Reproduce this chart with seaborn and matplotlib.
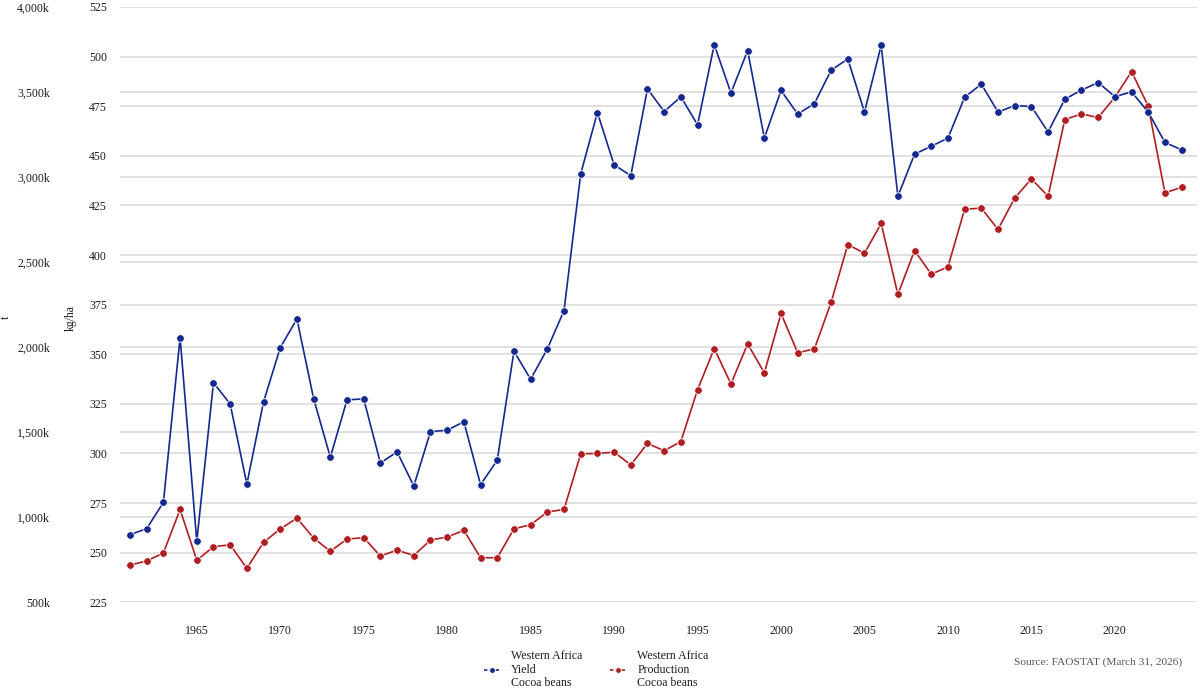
import numpy as np
import pandas as pd
import matplotlib
matplotlib.use("Agg")
import matplotlib.pyplot as plt
from matplotlib.lines import Line2D
import seaborn as sns

# data (Western Africa, cocoa beans)
years = list(range(1961, 2025))

yield_kg_ha = [
    259.1, 262.1, 275.4, 358.4, 255.7, 335.7, 324.9, 284.6, 326.0, 353.3,
    367.8, 327.6, 298.1, 327.0, 327.5, 295.2, 300.8, 283.6, 311.0, 311.7,
    316.0, 284.3, 296.6, 351.5, 337.4, 352.7, 372.0, 440.9, 471.8, 445.4,
    440.0, 483.7, 472.3, 479.7, 465.6, 506.0, 481.6, 503.0, 458.9, 482.9,
    471.0, 476.3, 493.1, 498.8, 472.0, 505.7, 429.6, 450.8, 454.8, 458.9,
    479.5, 486.1, 472.0, 475.3, 474.8, 462.0, 478.5, 483.1, 486.9, 479.8,
    482.2, 472.0, 456.7, 453.0,
]

# thousand tonnes
production_kt = [
    719, 743, 790, 1046, 747, 827, 838, 700, 853, 931,
    995, 878, 800, 872, 880, 772, 807, 775, 866, 884,
    923, 762, 762, 932, 956, 1031, 1046, 1373, 1375, 1383,
    1308, 1434, 1391, 1445, 1750, 1992, 1784, 2019, 1849, 2198,
    1967, 1990, 2263, 2603, 2552, 2727, 2310, 2568, 2429, 2472,
    2811, 2817, 2692, 2877, 2989, 2887, 3338, 3371, 3350, 3469,
    3620, 3416, 2907, 2940,
]

yield_ticks = [225, 250, 275, 300, 325, 350, 375, 400, 425, 450, 475, 500, 525]
prod_ticks = [500, 1000, 1500, 2000, 2500, 3000, 3500, 4000]
x_ticks = [1965, 1970, 1975, 1980, 1985, 1990, 1995, 2000, 2005, 2010, 2015, 2020]

df = pd.DataFrame({"year": years, "yield": yield_kg_ha,
                   "production": [v * 1000 for v in production_kt]})

blue = "#14288f"
red = "#b01e22"
grid_col = "#dedede"
text_col = "#1e1e1e"
fs = 8.6

sns.set_style("white")
plt.rcParams["font.family"] = ["Liberation Serif", "DejaVu Serif"]

fig = plt.figure(figsize=(12, 6.92), dpi=100)
ax = fig.add_axes([0.1, 0.1296, 0.8975, 0.8604])
ax2 = ax.twinx()

# production axis sits behind, it holds all gridlines
ax.set_zorder(ax2.get_zorder() + 1)
ax.patch.set_visible(False)

ax.set_xlim(1960.4, 2024.92)
ax.set_ylim(225, 525)
ax2.set_ylim(500e3, 4000e3)

for v in prod_ticks:
    ax2.axhline(v * 1000, color=grid_col, linewidth=1.3, zorder=0)
for v in yield_ticks:
    ax2.plot([0, 1], [v, v], transform=ax.get_yaxis_transform(),
             color=grid_col, linewidth=1.3, zorder=0)

sns.lineplot(data=df, x="year", y="production", ax=ax2, color=red, linewidth=1.2,
             marker="o", markersize=5.5, markeredgecolor="white", markeredgewidth=0.6,
             legend=False, zorder=3)
sns.lineplot(data=df, x="year", y="yield", ax=ax, color=blue, linewidth=1.2,
             marker="o", markersize=5.5, markeredgecolor="white", markeredgewidth=0.6,
             legend=False, zorder=3)

ax.set_yticks(yield_ticks)
ax.set_yticklabels([str(v) for v in yield_ticks])
ax2.set_yticks([v * 1000 for v in prod_ticks])
ax2.set_yticklabels([f"{v:,}k" for v in prod_ticks])
ax.set_xticks(x_ticks)
ax.grid(False)
ax2.grid(False)

for a in (ax, ax2):
    for s in a.spines.values():
        s.set_visible(False)

ax.tick_params(axis="y", length=0, pad=9.4, labelsize=fs, labelcolor=text_col)
ax.tick_params(axis="x", length=3, color=grid_col, pad=13, labelsize=fs, labelcolor=text_col)

# move production axis to the far left
ax2.yaxis.tick_left()
ax2.yaxis.set_label_position("left")
ax2.spines["left"].set_position(("outward", 41))
ax2.tick_params(axis="y", length=0, pad=9.4, labelsize=fs, labelcolor=text_col)

ax.set_xlabel("")
ax.set_ylabel("kg/ha", fontsize=8.5, color=text_col)
ax.yaxis.set_label_coords(-0.040, 0.478)
ax2.set_ylabel("t", fontsize=8.5, color=text_col)
ax2.yaxis.set_label_coords(-0.1003, 0.478)

handles = [
    Line2D([0], [0], color=blue, linestyle=(0, (2, 1.5)), linewidth=1.2, marker="o",
           markersize=4, markeredgecolor="white", markeredgewidth=0.5),
    Line2D([0], [0], color=red, linestyle=(0, (2, 1.5)), linewidth=1.2, marker="o",
           markersize=4, markeredgecolor="white", markeredgewidth=0.5),
]
labels = ["Western Africa\nYield\nCocoa beans", "Western Africa\nProduction\nCocoa beans"]
fig.legend(handles, labels, loc="upper left", bbox_to_anchor=(0.403, 0.061),
           ncol=2, frameon=False, fontsize=fs, handlelength=1.4, handletextpad=0.9,
           columnspacing=2.3, borderpad=0, borderaxespad=0, labelcolor=text_col,
           labelspacing=0.5)

fig.text(0.985, 0.043, "Source: FAOSTAT (March 31, 2026)", ha="right", va="center",
         fontsize=8.2, color="#555555")

fig.savefig("out.png", dpi=100)
